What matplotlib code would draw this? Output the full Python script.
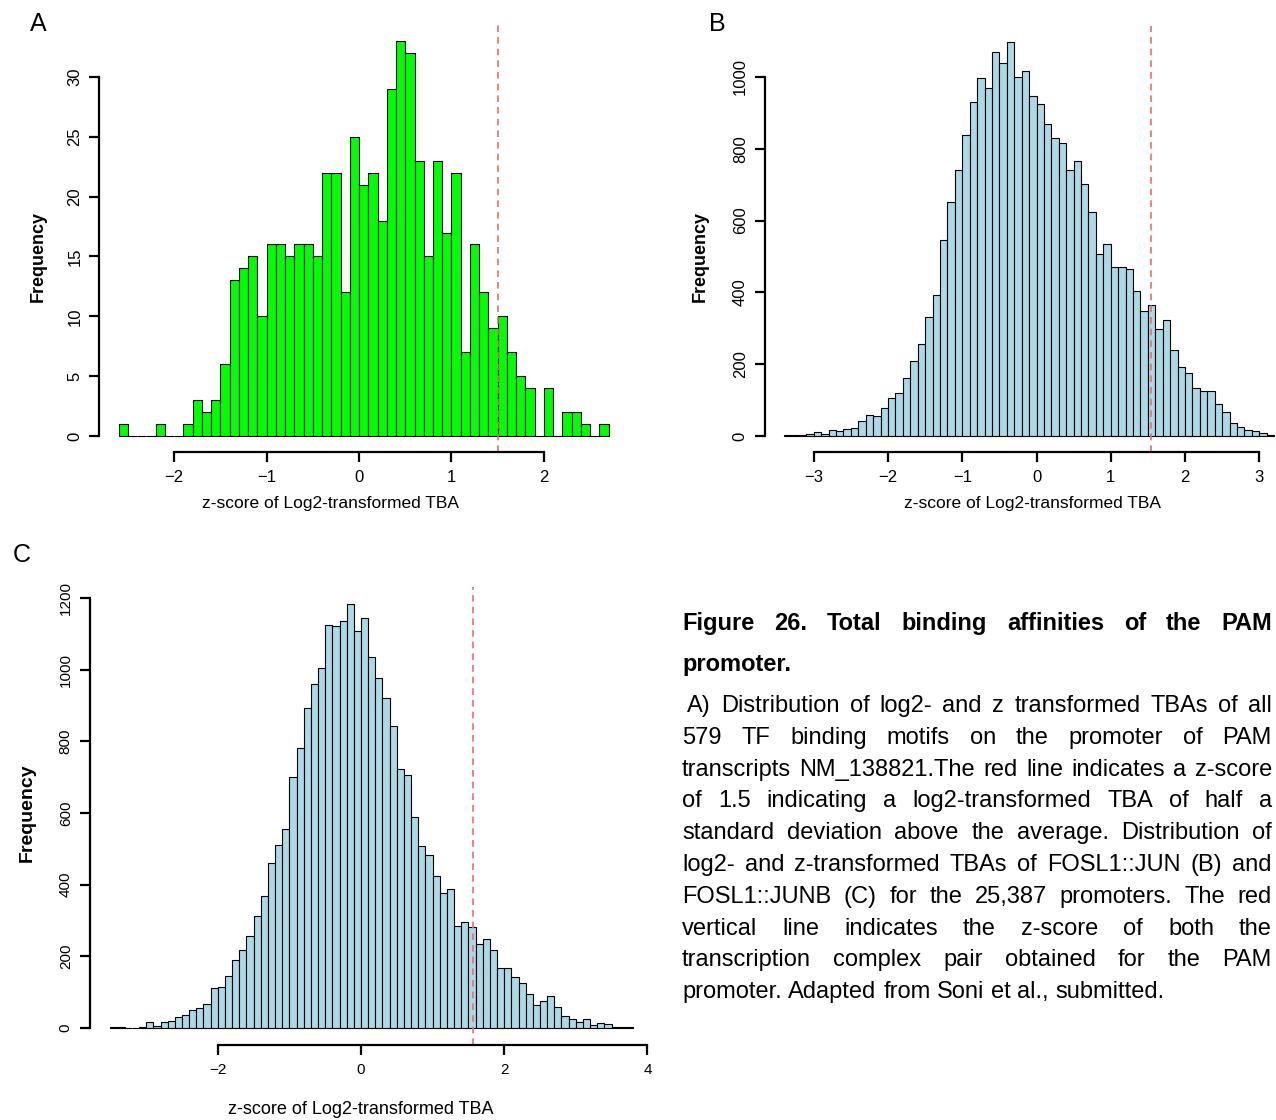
import matplotlib
matplotlib.use('Agg')
import matplotlib.pyplot as plt

plt.rcParams['font.family'] = ['Liberation Sans', 'DejaVu Sans']

# histogram counts, bin width 0.1
a_start = -2.6
a_counts = [1, 0, 0, 0, 1, 0, 0, 1, 3, 2, 3, 6, 13, 14, 15, 10, 16, 16, 15, 16,
            16, 15, 22, 22, 12, 25, 21, 22, 18, 29, 33, 32, 23, 15, 23, 17, 22, 7, 16, 12,
            9, 10, 7, 5, 4, 0, 4, 0, 2, 2, 1, 0, 1]
b_start = -3.4
b_counts = [2, 4, 2, 6, 10, 7, 16, 14, 20, 23, 41, 60, 56, 79, 105, 121, 161, 209, 256, 331,
            392, 545, 653, 741, 838, 930, 996, 970, 1069, 1038, 1097, 999, 1016, 946, 925, 868,
            830, 815, 741, 766, 702, 625, 508, 535, 470, 472, 465, 403, 349, 364, 298, 324,
            239, 192, 176, 133, 126, 126, 90, 66, 35, 26, 16, 13, 9, 2]
c_start = -3.5
c_counts = [3, 2, 0, 0, 3, 17, 7, 16, 20, 31, 37, 50, 56, 68, 111, 114, 145, 191, 219, 258,
            313, 367, 460, 512, 555, 700, 781, 894, 960, 1004, 1124, 1121, 1136, 1184, 1107, 1144,
            1034, 976, 922, 842, 724, 707, 590, 507, 482, 425, 377, 387, 286, 295, 282, 235,
            247, 217, 168, 168, 141, 127, 95, 65, 75, 89, 59, 34, 25, 17, 25, 9, 14, 11, 2, 4, 2]
bin_w = 0.1

a_line, b_line, c_line = 1.5, 1.54, 1.57
a_xticks = [-2, -1, 0, 1, 2]
a_yticks = [0, 5, 10, 15, 20, 25, 30]
b_xticks = [-3, -2, -1, 0, 1, 2, 3]
b_yticks = [0, 200, 400, 600, 800, 1000]
c_xticks = [-2, 0, 2, 4]
c_yticks = [0, 200, 400, 600, 800, 1000, 1200]

xlab = 'z-score of Log2-transformed TBA'

W, H = 1276, 1120
fig = plt.figure(figsize=(W / 100, H / 100), dpi=100)


def panel(left, top, right, bottom):
    return fig.add_axes([left / W, 1 - bottom / H, (right - left) / W, (bottom - top) / H])


def ftext(x, y, s, **kw):
    return fig.text(x / W, 1 - y / H, s, **kw)


def draw_hist(ax, start, counts, color, vline, xticks, yticks, tsize):
    n = len(counts)
    lefts = [start + i * bin_w for i in range(n)]
    ax.bar(lefts, counts, width=bin_w, align='edge', color=color,
           edgecolor='black', linewidth=0.8)
    # R-style 4% padding around data range
    x0, x1 = start, start + n * bin_w
    dx = (x1 - x0) * 0.04
    ymax = max(counts)
    dy = ymax * 0.04
    ax.set_xlim(x0 - dx, x1 + dx)
    ax.set_ylim(-dy, ymax + dy)
    ax.axvline(vline, color='#f26b6b', linestyle=(0, (4, 3)), linewidth=1.2)
    for s in ['top', 'right']:
        ax.spines[s].set_visible(False)
    ax.spines['left'].set_bounds(yticks[0], yticks[-1])
    ax.spines['bottom'].set_bounds(xticks[0], xticks[-1])
    for s in ['left', 'bottom']:
        ax.spines[s].set_linewidth(1.6)
    ax.set_xticks(xticks)
    ax.set_yticks(yticks)
    ax.tick_params(axis='both', direction='out', length=7, width=1.6, labelsize=tsize)
    ax.tick_params(axis='x', pad=6)
    ax.tick_params(axis='y', labelrotation=90, pad=5)
    for t in ax.get_yticklabels():
        t.set_verticalalignment('center')


axA = panel(99, 25.3, 628.3, 451.7)
draw_hist(axA, a_start, a_counts, '#00ff00', a_line, a_xticks, a_yticks, 12)
axB = panel(764.5, 26.4, 1293.7, 451.8)
draw_hist(axB, b_start, b_counts, '#add8e6', b_line, b_xticks, b_yticks, 12)
axC = panel(89.5, 586.7, 654, 1045)
draw_hist(axC, c_start, c_counts, '#add8e6', c_line, c_xticks, c_yticks, 11)

# axis titles
ftext(331, 503, xlab, ha='center', va='center', fontsize=12.5)
ftext(1033, 503, xlab, ha='center', va='center', fontsize=12.5)
ftext(361, 1110, xlab, ha='center', va='center', fontsize=13)
ftext(38.5, 257, 'Frequency', ha='center', va='center', rotation=90, fontsize=13, fontweight='bold')
ftext(700, 257, 'Frequency', ha='center', va='center', rotation=90, fontsize=13, fontweight='bold')
ftext(27, 813, 'Frequency', ha='center', va='center', rotation=90, fontsize=14, fontweight='bold')

# panel letters
ftext(30, 30.7, 'A', ha='left', va='baseline', fontsize=18)
ftext(709, 30.7, 'B', ha='left', va='baseline', fontsize=18)
ftext(13, 562, 'C', ha='left', va='baseline', fontsize=18)

# caption, justified between x_left and x_right
title_lines = ['Figure 26. Total binding affinities of the PAM', 'promoter.']
body_lines = [
    'A) Distribution of log2- and z transformed TBAs of all',
    '579 TF binding motifs on the promoter of PAM',
    'transcripts NM_138821.The red line indicates a z-score',
    'of 1.5 indicating a log2-transformed TBA of half a',
    'standard deviation above the average. Distribution of',
    'log2- and z-transformed TBAs of FOSL1::JUN (B) and',
    'FOSL1::JUNB (C) for the 25,387 promoters. The red',
    'vertical line indicates the z-score of both the',
    'transcription complex pair obtained for the PAM',
    'promoter. Adapted from Soni et al., submitted.',
]

renderer = fig.canvas.get_renderer()
x_left, x_right = 682, 1272


def put_line(line, y, x0, justify, **kw):
    words = line.split()
    texts = [ftext(0, y, w, ha='left', va='baseline', **kw) for w in words]
    widths = [t.get_window_extent(renderer).width for t in texts]
    if justify and len(words) > 1:
        gap = (x_right - x0 - sum(widths)) / (len(words) - 1)
    else:
        gap = ftext(0, y, 'a b', fontsize=kw['fontsize']).get_window_extent(renderer).width
        gap -= ftext(0, y, 'ab', fontsize=kw['fontsize']).get_window_extent(renderer).width
        for t in fig.texts[-2:]:
            t.remove()
    x = x0
    for t, w in zip(texts, widths):
        t.set_position((x / W, 1 - y / H))
        x += w + gap


put_line(title_lines[0], 630, x_left, True, fontsize=17, fontweight='bold')
put_line(title_lines[1], 671, x_left, False, fontsize=17, fontweight='bold')
y = 712
for i, line in enumerate(body_lines):
    x0 = 687 if i == 0 else x_left
    put_line(line, y, x0, i < len(body_lines) - 1, fontsize=17)
    y += 31.8

fig.savefig('out.png', dpi=100)
